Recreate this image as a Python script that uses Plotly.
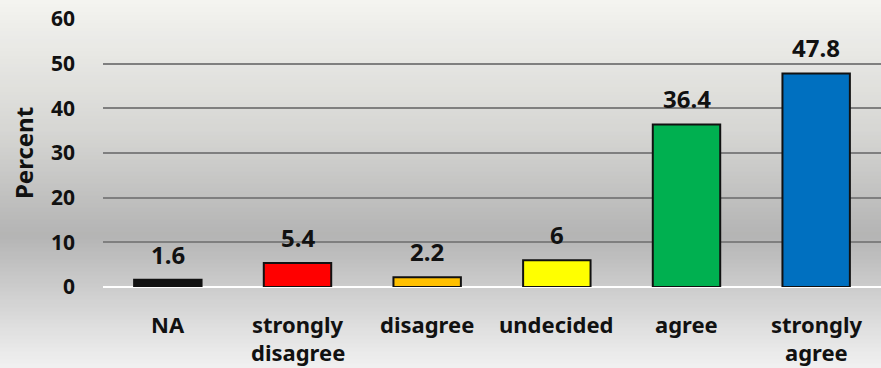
import plotly.graph_objects as go

# Survey response shares (percent)
categories = ["NA", "strongly\ndisagree", "disagree", "undecided", "agree", "strongly\nagree"]
percent = [1.6, 5.4, 2.2, 6, 36.4, 47.8]
bar_colors = ["#111111", "#ff0000", "#ffc000", "#ffff00", "#00b050", "#0070c0"]
y_ticks = [0, 10, 20, 30, 40, 50, 60]

FONT = "Noto Sans"
TEXT = "#111111"

W, H = 881, 368
M_L, M_R, M_T, M_B = 103, 0, 19, 81

fig = go.Figure()

fig.add_trace(go.Bar(
    x=list(range(len(categories))),
    y=percent,
    width=0.52,
    marker=dict(color=bar_colors, line=dict(color="#111111", width=2)),
    hoverinfo="skip",
))

# Value labels above each bar
for i, v in enumerate(percent):
    fig.add_annotation(
        x=i, y=v, xref="x", yref="y",
        text=f"{v:g}", showarrow=False,
        yanchor="bottom", yshift=7,
        font=dict(family=FONT, size=24, color=TEXT, weight="bold"),
    )

# Category labels, one annotation per line for wider line spacing
for i, name in enumerate(categories):
    for j, line in enumerate(name.split("\n")):
        fig.add_annotation(
            x=i, y=0, xref="x", yref="y",
            text=line, showarrow=False,
            yanchor="middle", yshift=-37 - 28 * j,
            font=dict(family=FONT, size=22, color=TEXT, weight="bold"),
        )

# Vertical background gradient built from thin horizontal bands
stops = [(0.0, (244, 244, 240)), (0.36, (214, 214, 211)), (0.64, (180, 180, 180)),
         (1.0, (241, 241, 241))]


def grad(t):
    for (t0, c0), (t1, c1) in zip(stops[:-1], stops[1:]):
        if t <= t1:
            f = (t - t0) / (t1 - t0) if t1 > t0 else 0
            return tuple(round(a + (b - a) * f) for a, b in zip(c0, c1))
    return stops[-1][1]


bands = 92
plot_h = H - M_T - M_B
shapes = []
for k in range(bands):
    t = (k + 0.5) / bands
    r, g, b = grad(t)
    top_px = k * H / bands
    bot_px = (k + 1) * H / bands
    shapes.append(dict(
        type="rect", xref="paper", yref="paper", layer="below",
        x0=-M_L / (W - M_L - M_R), x1=1.01,
        y0=(H - M_B - bot_px) / plot_h, y1=(H - M_B - top_px) / plot_h + 0.002,
        fillcolor=f"rgb({r},{g},{b})", line=dict(width=0),
    ))
fig.update_layout(shapes=shapes)

fig.update_layout(
    width=W, height=H,
    margin=dict(l=M_L, r=M_R, t=M_T, b=M_B, pad=0),
    paper_bgcolor="rgba(0,0,0,0)",
    plot_bgcolor="rgba(0,0,0,0)",
    showlegend=False,
    xaxis=dict(
        range=[-0.5, len(categories) - 0.5],
        showticklabels=False, showgrid=False, zeroline=False,
        showline=False, fixedrange=True,
    ),
    yaxis=dict(
        range=[0, 60], tickvals=y_ticks,
        showgrid=True, gridcolor="#7f7f7f", gridwidth=1.5,
        zeroline=True, zerolinecolor="#ffffff", zerolinewidth=2,
        ticklabelstandoff=27,
        tickfont=dict(family=FONT, size=21, color=TEXT, weight="bold"),
        title=dict(text="Percent", standoff=10,
                   font=dict(family=FONT, size=24, color=TEXT, weight="bold")),
        fixedrange=True,
    ),
)

fig.write_html("out.html")
